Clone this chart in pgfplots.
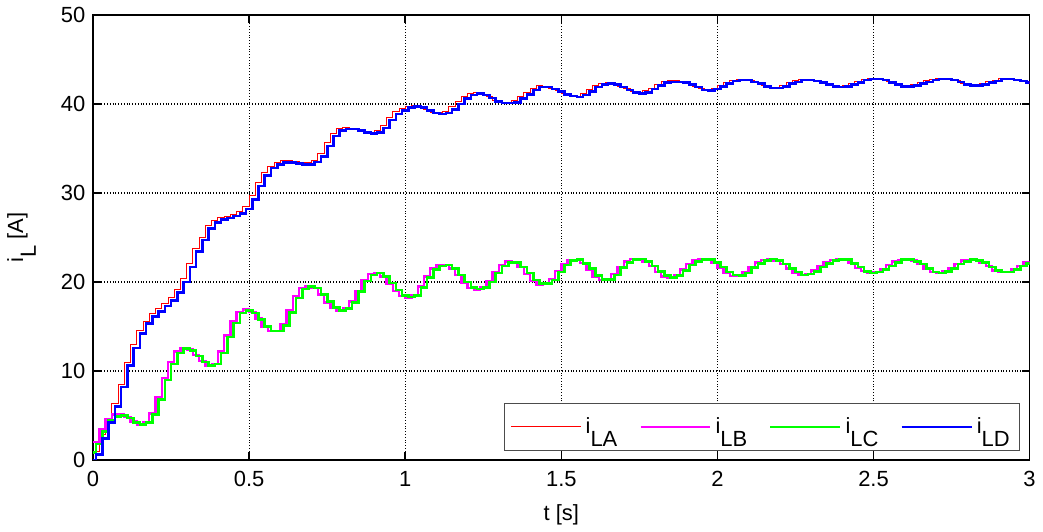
\documentclass[border=0pt]{standalone}
\usepackage{pgfplots}
\usepackage{pgfplotstable}
\pgfplotsset{compat=1.18}
\usepackage{fontspec}
\setmainfont{Liberation Sans}
\newcommand{\sub}[1]{\raisebox{-1.1ex}{#1}}
\definecolor{cA}{rgb}{1,0,0}
\definecolor{cB}{rgb}{1,0,1}
\definecolor{cC}{rgb}{0,1,0}
\definecolor{cD}{rgb}{0,0,1}

% phase current A (red), 20 ms steps
\pgfplotstableread{
t A
0.00 1.0
0.02 2.8
0.04 4.6
0.06 6.3
0.08 8.5
0.10 11.0
0.12 13.0
0.14 14.6
0.16 15.6
0.18 16.4
0.20 17.0
0.22 17.6
0.24 18.2
0.26 19.1
0.28 20.4
0.30 22.1
0.32 23.8
0.34 25.0
0.36 26.3
0.38 26.9
0.40 27.2
0.42 27.4
0.44 27.6
0.46 27.9
0.48 28.5
0.50 29.7
0.52 31.2
0.54 32.3
0.56 33.0
0.58 33.4
0.60 33.6
0.62 33.6
0.64 33.5
0.66 33.4
0.68 33.4
0.70 33.7
0.72 34.4
0.74 35.7
0.76 36.7
0.78 37.2
0.80 37.4
0.82 37.3
0.84 37.1
0.86 36.9
0.88 36.8
0.90 37.0
0.92 37.6
0.94 38.5
0.96 39.2
0.98 39.5
1.00 39.7
1.02 39.8
1.04 39.7
1.06 39.4
1.08 39.1
1.10 39.0
1.12 39.2
1.14 39.7
1.16 40.3
1.18 40.9
1.20 41.2
1.22 41.3
1.24 41.1
1.26 40.8
1.28 40.4
1.30 40.2
1.32 40.2
1.34 40.4
1.36 40.8
1.38 41.3
1.40 41.8
1.42 42.1
1.44 42.0
1.46 41.8
1.48 41.5
1.50 41.2
1.52 41.0
1.54 40.9
1.56 41.2
1.58 41.6
1.60 42.1
1.62 42.3
1.64 42.4
1.66 42.3
1.68 42.0
1.70 41.7
1.72 41.4
1.74 41.3
1.76 41.5
1.78 41.8
1.80 42.2
1.82 42.5
1.84 42.6
1.86 42.6
1.88 42.5
1.90 42.3
1.92 42.0
1.94 41.7
1.96 41.6
1.98 41.8
2.00 42.1
2.02 42.4
2.04 42.7
2.06 42.8
2.08 42.8
2.10 42.6
2.12 42.4
2.14 42.1
2.16 41.9
2.18 41.9
2.20 42.1
2.22 42.4
2.24 42.6
2.26 42.8
2.28 42.8
2.30 42.7
2.32 42.5
2.34 42.3
2.36 42.1
2.38 42.0
2.40 42.1
2.42 42.3
2.44 42.5
2.46 42.8
2.48 42.9
2.50 42.9
2.52 42.8
2.54 42.5
2.56 42.3
2.58 42.1
2.60 42.1
2.62 42.2
2.64 42.4
2.66 42.6
2.68 42.8
2.70 42.9
2.72 42.9
2.74 42.8
2.76 42.6
2.78 42.3
2.80 42.2
2.82 42.2
2.84 42.3
2.86 42.5
2.88 42.7
2.90 42.9
2.92 42.9
2.94 42.8
2.96 42.7
2.98 42.5
3.00 42.3
}\tabA

% phase current D (blue), lags A by 10 ms
\pgfplotstableread{
t D
0.00 0.0
0.01 0.6
0.03 2.4
0.05 4.2
0.07 6.0
0.09 8.2
0.11 10.6
0.13 12.6
0.15 14.2
0.17 15.3
0.19 16.1
0.21 16.7
0.23 17.3
0.25 17.9
0.27 18.8
0.29 20.0
0.31 21.7
0.33 23.4
0.35 24.7
0.37 26.0
0.39 26.7
0.41 27.0
0.43 27.2
0.45 27.4
0.47 27.7
0.49 28.2
0.51 29.3
0.53 30.8
0.55 32.0
0.57 32.8
0.59 33.2
0.61 33.4
0.63 33.4
0.65 33.3
0.67 33.2
0.69 33.2
0.71 33.5
0.73 34.1
0.75 35.3
0.77 36.4
0.79 37.0
0.81 37.2
0.83 37.2
0.85 37.0
0.87 36.8
0.89 36.7
0.91 36.8
0.93 37.3
0.95 38.2
0.97 38.9
0.99 39.3
1.01 39.6
1.03 39.7
1.05 39.6
1.07 39.3
1.09 39.0
1.11 38.9
1.13 39.0
1.15 39.4
1.17 40.0
1.19 40.6
1.21 41.0
1.23 41.2
1.25 41.0
1.27 40.7
1.29 40.3
1.31 40.1
1.33 40.1
1.35 40.2
1.37 40.6
1.39 41.1
1.41 41.6
1.43 41.9
1.45 41.9
1.47 41.7
1.49 41.4
1.51 41.1
1.53 40.9
1.55 40.8
1.57 41.0
1.59 41.4
1.61 41.9
1.63 42.2
1.65 42.3
1.67 42.2
1.69 41.9
1.71 41.6
1.73 41.3
1.75 41.2
1.77 41.3
1.79 41.7
1.81 42.1
1.83 42.4
1.85 42.5
1.87 42.5
1.89 42.4
1.91 42.2
1.93 41.9
1.95 41.6
1.97 41.5
1.99 41.7
2.01 42.0
2.03 42.3
2.05 42.6
2.07 42.7
2.09 42.7
2.11 42.5
2.13 42.3
2.15 42.0
2.17 41.8
2.19 41.8
2.21 42.0
2.23 42.3
2.25 42.5
2.27 42.7
2.29 42.7
2.31 42.6
2.33 42.4
2.35 42.2
2.37 42.0
2.39 41.9
2.41 42.0
2.43 42.2
2.45 42.4
2.47 42.7
2.49 42.8
2.51 42.8
2.53 42.7
2.55 42.4
2.57 42.2
2.59 42.0
2.61 42.0
2.63 42.1
2.65 42.3
2.67 42.5
2.69 42.7
2.71 42.8
2.73 42.8
2.75 42.7
2.77 42.5
2.79 42.2
2.81 42.1
2.83 42.1
2.85 42.2
2.87 42.4
2.89 42.6
2.91 42.8
2.93 42.8
2.95 42.7
2.97 42.6
2.99 42.4
3.00 42.3
}\tabD

% phase current B (magenta)
\pgfplotstableread{
t B
0.00 2.0
0.02 3.4
0.04 4.6
0.06 5.1
0.08 5.1
0.10 4.8
0.12 4.3
0.14 4.0
0.16 4.2
0.18 5.2
0.20 7.0
0.22 9.2
0.24 11.0
0.26 12.2
0.28 12.6
0.30 12.4
0.32 11.8
0.34 11.1
0.36 10.6
0.38 10.8
0.40 12.2
0.42 14.0
0.44 15.6
0.46 16.6
0.48 16.9
0.50 16.6
0.52 15.9
0.54 15.0
0.56 14.5
0.58 14.5
0.60 15.2
0.62 16.8
0.64 18.4
0.66 19.3
0.68 19.5
0.70 19.3
0.72 18.6
0.74 17.7
0.76 17.1
0.78 16.8
0.80 17.0
0.82 17.8
0.84 19.0
0.86 20.2
0.88 20.9
0.90 21.0
0.92 20.6
0.94 19.8
0.96 19.0
0.98 18.4
1.00 18.2
1.02 18.5
1.04 19.5
1.06 20.6
1.08 21.5
1.10 21.9
1.12 21.9
1.14 21.5
1.16 20.8
1.18 19.9
1.20 19.3
1.22 19.1
1.24 19.4
1.26 20.1
1.28 21.1
1.30 21.9
1.32 22.3
1.34 22.2
1.36 21.7
1.38 20.9
1.40 20.1
1.42 19.7
1.44 19.8
1.46 20.3
1.48 21.2
1.50 22.0
1.52 22.5
1.54 22.5
1.56 22.1
1.58 21.4
1.60 20.6
1.62 20.2
1.64 20.3
1.66 20.9
1.68 21.7
1.70 22.3
1.72 22.6
1.74 22.6
1.76 22.3
1.78 21.8
1.80 21.1
1.82 20.6
1.84 20.5
1.86 20.8
1.88 21.4
1.90 22.0
1.92 22.4
1.94 22.6
1.96 22.5
1.98 22.2
2.00 21.6
2.02 21.0
2.04 20.7
2.06 20.7
2.08 21.1
2.10 21.7
2.12 22.2
2.14 22.5
2.16 22.6
2.18 22.4
2.20 22.0
2.22 21.5
2.24 21.0
2.26 20.8
2.28 20.9
2.30 21.3
2.32 21.8
2.34 22.2
2.36 22.5
2.38 22.6
2.40 22.5
2.42 22.1
2.44 21.6
2.46 21.2
2.48 21.0
2.50 21.1
2.52 21.4
2.54 21.9
2.56 22.3
2.58 22.5
2.60 22.6
2.62 22.4
2.64 22.0
2.66 21.5
2.68 21.1
2.70 21.0
2.72 21.2
2.74 21.6
2.76 22.0
2.78 22.4
2.80 22.5
2.82 22.5
2.84 22.2
2.86 21.8
2.88 21.3
2.90 21.1
2.92 21.1
2.94 21.4
2.96 21.8
2.98 22.2
3.00 22.4
}\tabB

% phase current C (green), lags B by 10 ms
\pgfplotstableread{
t C
0.00 0.8
0.01 1.8
0.03 3.2
0.05 4.4
0.07 4.9
0.09 5.0
0.11 4.7
0.13 4.2
0.15 4.0
0.17 4.2
0.19 5.1
0.21 6.8
0.23 9.0
0.25 10.8
0.27 12.0
0.29 12.5
0.31 12.3
0.33 11.7
0.35 11.0
0.37 10.6
0.39 10.8
0.41 12.0
0.43 13.8
0.45 15.4
0.47 16.5
0.49 16.8
0.51 16.5
0.53 15.8
0.55 15.0
0.57 14.5
0.59 14.5
0.61 15.1
0.63 16.6
0.65 18.2
0.67 19.2
0.69 19.5
0.71 19.3
0.73 18.6
0.75 17.8
0.77 17.1
0.79 16.8
0.81 17.0
0.83 17.7
0.85 18.9
0.87 20.1
0.89 20.8
0.91 21.0
0.93 20.6
0.95 19.9
0.97 19.1
0.99 18.5
1.01 18.3
1.03 18.5
1.05 19.4
1.07 20.5
1.09 21.4
1.11 21.8
1.13 21.9
1.15 21.5
1.17 20.8
1.19 20.0
1.21 19.4
1.23 19.2
1.25 19.4
1.27 20.0
1.29 21.0
1.31 21.8
1.33 22.2
1.35 22.2
1.37 21.7
1.39 21.0
1.41 20.2
1.43 19.8
1.45 19.8
1.47 20.2
1.49 21.1
1.51 21.9
1.53 22.4
1.55 22.5
1.57 22.1
1.59 21.5
1.61 20.7
1.63 20.3
1.65 20.3
1.67 20.8
1.69 21.6
1.71 22.2
1.73 22.5
1.75 22.6
1.77 22.3
1.79 21.8
1.81 21.2
1.83 20.7
1.85 20.5
1.87 20.7
1.89 21.3
1.91 21.9
1.93 22.3
1.95 22.5
1.97 22.5
1.99 22.2
2.01 21.7
2.03 21.1
2.05 20.8
2.07 20.7
2.09 21.0
2.11 21.6
2.13 22.1
2.15 22.4
2.17 22.6
2.19 22.4
2.21 22.0
2.23 21.5
2.25 21.1
2.27 20.8
2.29 20.9
2.31 21.2
2.33 21.7
2.35 22.1
2.37 22.4
2.39 22.5
2.41 22.5
2.43 22.1
2.45 21.7
2.47 21.2
2.49 21.0
2.51 21.1
2.53 21.4
2.55 21.8
2.57 22.2
2.59 22.5
2.61 22.5
2.63 22.3
2.65 22.0
2.67 21.5
2.69 21.1
2.71 21.0
2.73 21.2
2.75 21.5
2.77 22.0
2.79 22.3
2.81 22.5
2.83 22.4
2.85 22.2
2.87 21.7
2.89 21.3
2.91 21.1
2.93 21.1
2.95 21.4
2.97 21.8
2.99 22.1
3.00 22.3
}\tabC

\begin{document}
\fontsize{11}{13}\selectfont
\begin{tikzpicture}
\begin{axis}[
    scale only axis,
    width=469.5pt, height=223pt,
    xmin=0, xmax=3, ymin=0, ymax=50,
    xtick={0,0.5,...,3}, ytick={0,10,...,50},
    xticklabels={0,0.5,1,1.5,2,2.5,3},
    tick align=inside, tickpos=both,
    major tick length=4pt,
    tick style={black, line width=0.8pt},
    axis line style={line width=0.9pt},
    grid=major,
    major grid style={black, densely dotted, line width=0.6pt},
    xlabel={t [s]}, ylabel={i\sub{L} [A]},
    xticklabel style={yshift=-2pt},
    xlabel style={yshift=-1pt},
    ylabel style={yshift=5pt},
    ticklabel style={font=\fontsize{11}{13}\selectfont},
    label style={font=\fontsize{11}{13}\selectfont},
    /pgf/number format/assume math mode=true,
    legend columns=4,
    legend style={at={(0.990,0.02)}, anchor=south east,
        draw=black!70, line width=0.5pt, font=\fontsize{11}{13}\selectfont,
        inner xsep=3pt, inner ysep=5pt,
        /tikz/every even column/.append style={column sep=9pt}},
    legend image code/.code={\draw[#1] (0pt,0pt) -- (35pt,0pt);},
    legend cell align=left,
]
\addplot[const plot, cA, line width=0.5pt] table[x=t, y=A] {\tabA};
\addlegendentry{i\sub{LA}}
\addplot[const plot, cB, line width=1.2pt] table[x=t, y=B] {\tabB};
\addlegendentry{i\sub{LB}}
\addplot[const plot, cC, line width=1.3pt] table[x=t, y=C] {\tabC};
\addlegendentry{i\sub{LC}}
\addplot[const plot, cD, line width=1.3pt] table[x=t, y=D] {\tabD};
\addlegendentry{i\sub{LD}}
\end{axis}
\end{tikzpicture}
\end{document}
